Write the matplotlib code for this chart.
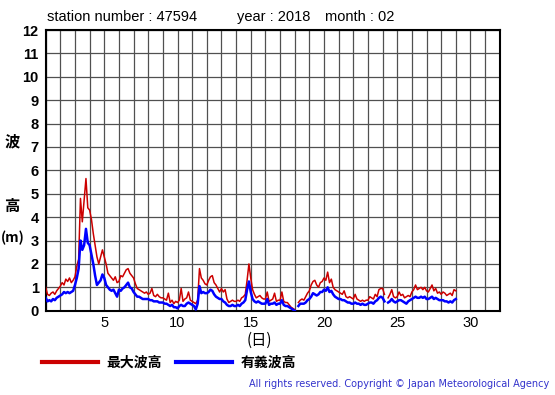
import numpy as np
import matplotlib.pyplot as plt

nan = np.nan

# 3-hourly wave heights (m), 8 samples per day starting at day 1.0, last sample at day 29.0
max_wave = [
    1.0, 0.7, 0.65, 0.75, 0.8, 0.7, 0.85, 0.95,       # 1
    1.05, 1.2, 1.1, 1.35, 1.25, 1.4, 1.2, 1.3,        # 2
    1.45, 1.9, 2.2, 4.8, 3.8, 4.7, 5.65, 4.4,         # 3
    4.3, 3.9, 3.3, 2.8, 2.3, 2.0, 2.3, 2.6,           # 4
    2.3, 2.0, 1.6, 1.5, 1.4, 1.3, 1.45, 1.2,          # 5
    1.25, 1.5, 1.45, 1.6, 1.75, 1.8, 1.6, 1.5,        # 6
    1.4, 1.15, 0.95, 0.9, 0.85, 0.8, 0.75, 0.8,       # 7
    0.7, 0.75, 0.95, 0.65, 0.6, 0.7, 0.6, 0.55,       # 8
    0.55, 0.5, 0.45, 0.75, 0.35, 0.45, 0.3, 0.4,      # 9
    0.35, 0.45, 0.95, 0.4, 0.5, 0.55, 0.8, 0.45,      # 10
    0.4, 0.35, 0.3, 0.45, 1.8, 1.4, 1.3, 1.15,        # 11
    1.1, 1.3, 1.45, 1.5, 1.2, 1.1, 0.95, 0.8,         # 12
    0.95, 0.8, 0.9, 0.5, 0.35, 0.4, 0.45, 0.4,        # 13
    0.4, 0.45, 0.4, 0.55, 0.6, 0.7, 1.3, 2.0,         # 14
    1.4, 0.9, 0.7, 0.55, 0.6, 0.65, 0.55, 0.5,        # 15
    0.5, 0.8, 0.4, 0.45, 0.5, 0.75, 0.4, 0.45,        # 16
    0.45, 0.8, 0.4, 0.35, 0.35, 0.25, 0.15, 0.1,      # 17
    0.05, nan, 0.35, 0.45, 0.5, 0.45, 0.6, 0.75,      # 18
    0.85, 1.1, 1.25, 1.3, 1.1, 1.0, 1.2, 1.25,        # 19
    1.4, 1.3, 1.65, 1.2, 1.35, 1.0, 0.9, 0.85,        # 20
    0.8, 0.75, 0.7, 0.85, 0.6, 0.55, 0.6, 0.55,       # 21
    0.5, 0.7, 0.5, 0.45, 0.4, 0.45, 0.4, 0.45,        # 22
    0.45, 0.6, 0.55, 0.5, 0.7, 0.6, 0.9, 0.95,        # 23
    0.95, 0.7, nan, 0.55, 0.7, 0.9, 0.6, 0.55,        # 24
    0.6, 0.8, 0.65, 0.7, 0.55, 0.6, 0.65, 0.6,        # 25
    0.8, 0.9, 1.1, 0.9, 0.95, 1.0, 0.9, 1.0,          # 26
    0.85, 0.8, 0.95, 1.1, 0.85, 0.95, 0.75, 0.8,      # 27
    0.7, 0.8, 0.75, 0.65, 0.7, 0.75, 0.65, 0.9,       # 28
    0.85,
]

sig_wave = [
    0.55, 0.4, 0.45, 0.4, 0.5, 0.45, 0.55, 0.6,       # 1
    0.65, 0.7, 0.8, 0.75, 0.8, 0.75, 0.8, 0.85,       # 2
    1.1, 1.4, 1.8, 3.0, 2.6, 2.8, 3.5, 2.9,           # 3
    2.8, 2.4, 2.0, 1.5, 1.1, 1.2, 1.3, 1.55,          # 4
    1.4, 1.1, 1.0, 0.9, 0.85, 0.9, 0.75, 0.6,         # 5
    0.9, 0.85, 0.95, 1.0, 1.1, 1.2, 1.0, 0.95,        # 6
    0.8, 0.7, 0.6, 0.6, 0.55, 0.5, 0.5, 0.5,          # 7
    0.5, 0.45, 0.45, 0.4, 0.4, 0.4, 0.35, 0.35,       # 8
    0.35, 0.3, 0.3, 0.25, 0.2, 0.25, 0.15, 0.15,      # 9
    0.1, 0.2, 0.25, 0.2, 0.2, 0.3, 0.35, 0.3,         # 10
    0.25, 0.2, 0.05, 0.3, 1.05, 0.75, 0.8, 0.75,      # 11
    0.75, 0.8, 0.9, 0.85, 0.7, 0.6, 0.55, 0.5,        # 12
    0.5, 0.4, 0.35, 0.25, 0.2, 0.2, 0.25, 0.2,        # 13
    0.2, 0.25, 0.2, 0.3, 0.35, 0.45, 0.9, 1.25,       # 14
    0.8, 0.5, 0.4, 0.35, 0.4, 0.35, 0.3, 0.3,         # 15
    0.3, 0.5, 0.25, 0.3, 0.3, 0.35, 0.25, 0.3,        # 16
    0.3, 0.45, 0.25, 0.2, 0.2, 0.15, 0.1, 0.05,       # 17
    0.0, nan, 0.2, 0.3, 0.3, 0.3, 0.35, 0.45,         # 18
    0.5, 0.6, 0.75, 0.7, 0.65, 0.7, 0.8, 0.8,         # 19
    0.9, 0.85, 1.0, 0.8, 0.85, 0.7, 0.6, 0.55,        # 20
    0.5, 0.5, 0.45, 0.45, 0.4, 0.35, 0.35, 0.3,       # 21
    0.3, 0.35, 0.3, 0.3, 0.25, 0.3, 0.25, 0.25,       # 22
    0.3, 0.35, 0.35, 0.3, 0.4, 0.45, 0.55, 0.6,       # 23
    0.55, 0.4, nan, 0.35, 0.4, 0.5, 0.4, 0.35,        # 24
    0.4, 0.45, 0.45, 0.4, 0.35, 0.3, 0.4, 0.45,       # 25
    0.5, 0.55, 0.6, 0.55, 0.55, 0.6, 0.55, 0.6,       # 26
    0.5, 0.5, 0.55, 0.6, 0.5, 0.55, 0.5, 0.45,        # 27
    0.45, 0.45, 0.4, 0.4, 0.35, 0.4, 0.35, 0.45,      # 28
    0.5,
]

samples_per_day = 8
days = 1 + np.arange(len(max_wave)) / samples_per_day

x_ticks = [5, 10, 15, 20, 25, 30]
y_ticks = list(range(0, 13))

fig = plt.figure(figsize=(5.55, 3.95), dpi=100)
ax = fig.add_axes([0.0823, 0.2134, 0.8182, 0.7106])

ax.plot(days, max_wave, color='#cc0000', lw=1.1, zorder=3)
ax.plot(days, sig_wave, color='#0000ff', lw=1.8, zorder=4)

ax.set_xlim(1, 32)
ax.set_ylim(0, 12)
ax.set_xticks(np.arange(1, 33), minor=True)
ax.set_xticks(x_ticks)
ax.set_yticks(y_ticks)
ax.grid(True, which='both', color='#505050', lw=0.9)
ax.tick_params(which='both', length=0)
ax.tick_params(axis='x', pad=4, labelsize=10.5)
ax.tick_params(axis='y', pad=5, labelsize=10.5)
for lab in ax.get_yticklabels():
    lab.set_fontweight('bold')
    lab.set_family('Liberation Sans')
for lab in ax.get_xticklabels():
    lab.set_family('Liberation Sans')
for sp in ax.spines.values():
    sp.set_linewidth(1.5)

title_y = 1 - 17 / 395
fig.text(47 / 555, title_y, 'station number : 47594',
         family='Liberation Sans', fontsize=10.5, va='center', ha='left')
fig.text(237 / 555, title_y, 'year : 2018',
         family='Liberation Sans', fontsize=10.5, va='center', ha='left')
fig.text(325 / 555, title_y, 'month : 02',
         family='Liberation Sans', fontsize=10.5, va='center', ha='left')

cjk = ['Noto Sans CJK JP', 'DejaVu Sans']
fig.text(12 / 555, 1 - 141 / 395, '波', family=cjk, fontweight='bold',
         fontsize=11, ha='center', va='center')
fig.text(12 / 555, 1 - 206 / 395, '高', family=cjk, fontweight='bold',
         fontsize=11, ha='center', va='center')
fig.text(13 / 555, 1 - 238 / 395, '(m)', family=cjk, fontweight='bold',
         fontsize=10, ha='center', va='center')
fig.text(259 / 555, 1 - 340 / 395, '(日)', family=cjk,
         fontsize=11, ha='center', va='center')

h1, = ax.plot([], [], color='#cc0000', lw=3)
h2, = ax.plot([], [], color='#0000ff', lw=3)
fig.legend([h1, h2], ['最大波高', '有義波高'], ncol=2, frameon=False,
           loc='center left', bbox_to_anchor=(42 / 555, 1 - 363 / 395),
           borderaxespad=0, borderpad=0, handlelength=4.0,
           handletextpad=0.65, columnspacing=1.0,
           prop={'family': cjk, 'weight': 'bold', 'size': 10})

fig.text(549 / 555, 1 - 384 / 395,
         'All rights reserved. Copyright © Japan Meteorological Agency',
         fontsize=7, color='#3333cc', ha='right', va='center')

fig.savefig('out.png', dpi=100)
